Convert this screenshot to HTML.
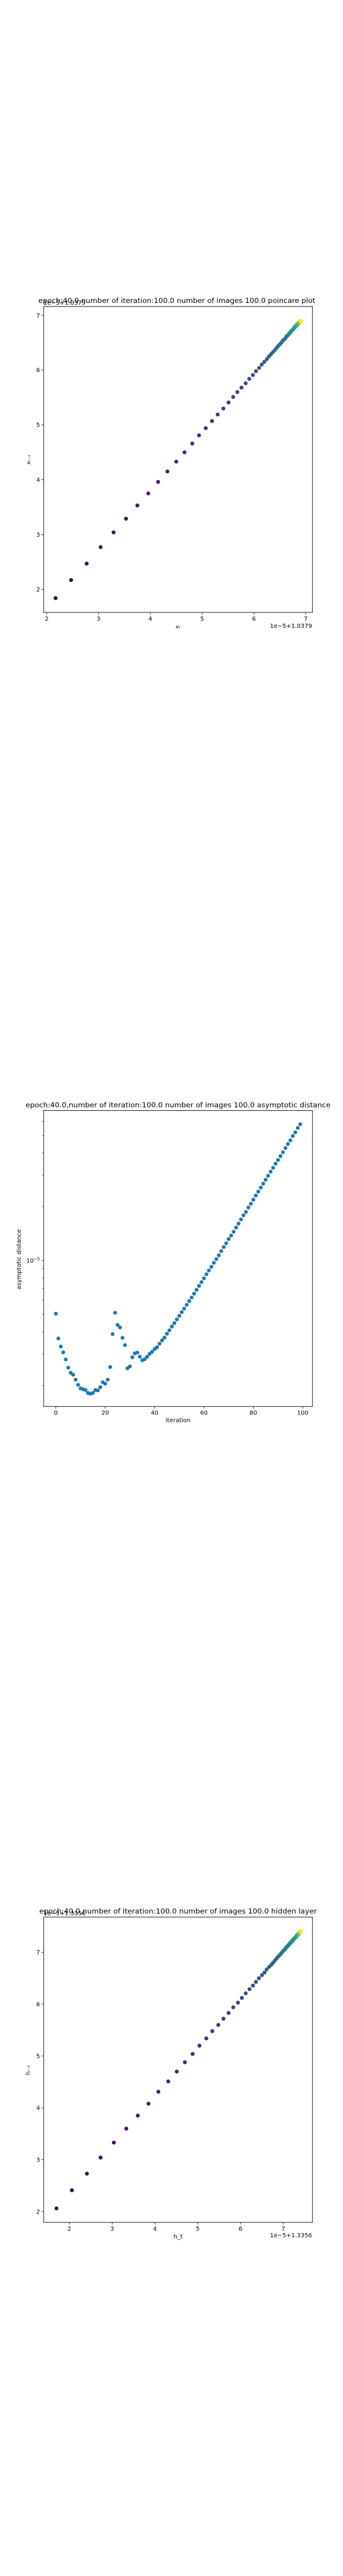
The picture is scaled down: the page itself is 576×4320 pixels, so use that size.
<!DOCTYPE html>
<html><head><meta charset="utf-8"><style>
html,body{margin:0;padding:0;background:#fff;}
svg{display:block;font-family:"DejaVu Sans","Liberation Sans",sans-serif;}
</style></head><body>
<svg id="fig" width="576" height="4320" viewBox="0 0 576 4320" xmlns="http://www.w3.org/2000/svg"></svg>
<script>
// ---- Plot 1 data: poincare plot sequence (units 1e-5 offset +1.0379)
const poincareSeq = [1.84,2.17,2.47,2.77,3.04,3.29,3.53,3.75,3.96,4.15,4.33,4.50,4.66,4.81,4.94,5.07,5.19,5.30,5.41,5.51,5.60,5.68,5.76,5.84,5.91,5.98,6.04,6.10,6.15,6.20,6.25,6.29,6.33,6.37,6.41,6.44,6.47,6.50,6.53,6.55,6.57,6.60,6.62,6.63,6.65,6.67,6.68,6.70,6.71,6.72,6.73,6.74,6.75,6.76,6.77,6.78,6.78,6.79,6.80,6.80,6.81,6.82,6.82,6.83,6.83,6.84,6.84,6.84,6.85,6.85,6.85,6.86,6.86,6.86,6.87,6.87,6.87,6.87,6.88,6.88,6.88,6.88,6.88,6.89,6.89,6.89,6.89,6.89,6.89,6.89,6.90,6.90,6.90,6.90,6.90,6.90,6.90,6.90,6.90,6.90,6.91];
const poincareTicks = [2,3,4,5,6,7];
// ---- Plot 2 data: asymptotic distance (units of 1e-5)
const iterations = [];
for (let i = 0; i < 100; i++) iterations.push(i);
const asymDist = [0.505,0.367,0.331,0.307,0.280,0.252,0.236,0.230,0.216,0.202,0.193,0.191,0.189,0.182,0.180,0.182,0.189,0.188,0.196,0.209,0.205,0.216,0.254,0.388,0.511,0.437,0.423,0.370,0.337,0.250,0.256,0.288,0.303,0.306,0.290,0.277,0.281,0.290,0.301,0.309,0.320,0.328,0.343,0.358,0.371,0.390,0.408,0.428,0.447,0.469,0.491,0.515,0.539,0.566,0.594,0.622,0.653,0.686,0.722,0.758,0.796,0.838,0.880,0.923,0.972,1.02,1.07,1.13,1.19,1.25,1.32,1.38,1.45,1.53,1.61,1.70,1.79,1.87,1.98,2.08,2.19,2.31,2.43,2.56,2.69,2.83,2.98,3.14,3.30,3.48,3.65,3.84,4.03,4.26,4.48,4.70,4.97,5.21,5.51,5.78];
const iterTicks = [0,20,40,60,80,100];
// ---- Plot 3 data: hidden layer sequence (units 1e-5 offset +1.3356)
const hiddenSeq = [1.70,2.06,2.41,2.73,3.04,3.33,3.60,3.85,4.08,4.31,4.51,4.70,4.88,5.04,5.20,5.34,5.48,5.60,5.72,5.83,5.94,6.03,6.12,6.21,6.29,6.36,6.43,6.50,6.56,6.61,6.67,6.72,6.76,6.80,6.84,6.88,6.92,6.95,6.98,7.01,7.04,7.06,7.09,7.11,7.13,7.15,7.17,7.18,7.20,7.21,7.22,7.24,7.25,7.26,7.27,7.28,7.29,7.29,7.30,7.31,7.31,7.32,7.33,7.33,7.34,7.34,7.35,7.35,7.35,7.36,7.36,7.36,7.37,7.37,7.37,7.37,7.38,7.38,7.38,7.38,7.38,7.39,7.39,7.39,7.39,7.39,7.39,7.39,7.40,7.40,7.40,7.40,7.40,7.40,7.40,7.40,7.40,7.40,7.41,7.41,7.41];
const hiddenTicks = [2,3,4,5,6,7];

const NS = "http://www.w3.org/2000/svg";
const svg = document.getElementById('fig');
function mk(tag, attrs, parent, text) {
  const e = document.createElementNS(NS, tag);
  for (const k in attrs) e.setAttribute(k, attrs[k]);
  if (text !== undefined) e.textContent = text;
  (parent || svg).appendChild(e);
  return e;
}
const VIR = [[68,1,84],[72,40,120],[62,74,137],[49,104,142],[38,130,142],[31,158,137],[53,183,121],[109,205,89],[180,222,44],[253,231,37]];
function viridis(t) {
  const p = t * (VIR.length - 1), i = Math.min(Math.floor(p), VIR.length - 2), f = p - i;
  const c = VIR[i].map((v, k) => Math.round(v + (VIR[i + 1][k] - v) * f));
  return `rgb(${c[0]},${c[1]},${c[2]})`;
}
function frame(g, L, R, T, B) {
  const r = mk('rect', {x: L, y: T, width: R - L, height: B - T, fill: 'none', stroke: '#000', 'stroke-width': 0.9}, g);
  
  
}
function xtick(g, x, B, label) {
  const l = mk('line', {x1: x, x2: x, y1: B, y2: B + 3.5, stroke: '#000', 'stroke-width': 0.8}, g);
  
  
  const t = mk('text', {x: x, y: B + 14, 'font-size': 10, 'text-anchor': 'middle', fill: '#000'}, g, label);
  
  
}
function ytick(g, y, L, label, len) {
  const l = mk('line', {x1: L - (len || 3.5), x2: L, y1: y, y2: y, stroke: '#000', 'stroke-width': 0.8}, g);
  
  
  if (label !== null) {
    const t = mk('text', {x: L - 6, y: y + 3.6, 'font-size': 10, 'text-anchor': 'end', fill: '#000'}, g, label);
    
    
  }
}

// ---------- Plot 1 ----------
(function(){
  const g = mk('g', {});
  
  
  const L = 73.3, R = 524.7, T = 514, B = 1027;
  const x0 = 1.94, x1 = 7.13, y0 = 1.58, y1 = 7.16;
  const sx = v => L + (v - x0) / (x1 - x0) * (R - L);
  const sy = v => B - (v - y0) / (y1 - y0) * (B - T);
  const n = poincareSeq.length - 1;
  for (let i = 0; i < n; i++) {
    const c = mk('circle', {cx: sx(poincareSeq[i + 1]), cy: sy(poincareSeq[i]), r: 3.3, fill: viridis(i / (n - 1))}, g);
    
    
  }
  frame(g, L, R, T, B);
  poincareTicks.forEach(v => xtick(g, sx(v), B, String(v)));
  poincareTicks.forEach(v => ytick(g, sy(v), L, String(v)));
  const t = mk('text', {x: 297, y: 508, 'font-size': 11.5, 'text-anchor': 'middle', textLength: 465, lengthAdjust: 'spacingAndGlyphs'}, g, 'epoch:40.0,number of iteration:100.0 number of images 100.0 poincare plot');
  
  
  const o1 = mk('text', {x: 73, y: 511, 'font-size': 10}, g, '1e\u22125+1.0379');
  
  
  const o2 = mk('text', {x: 524, y: 1053, 'font-size': 10, 'text-anchor': 'end'}, g, '1e\u22125+1.0379');
  
  
  const xl = mk('text', {x: 299, y: 1054, 'font-size': 9, 'text-anchor': 'middle', 'font-style': 'italic'}, g, 'x\u209C');
  
  
  const yl = mk('text', {x: 0, y: 0, 'font-size': 9, 'text-anchor': 'middle', 'font-style': 'italic', transform: 'translate(51,771) rotate(-90)'}, g, 'x\u209C\u208B\u2081');
  
  
})();

// ---------- Plot 2 ----------
(function(){
  const g = mk('g', {});
  
  
  const L = 73.3, R = 524.7, T = 1862.4, B = 2358.7;
  const x0 = -4.95, x1 = 103.95;
  const sx = v => L + (v - x0) / (x1 - x0) * (R - L);
  const sy = v => 2114 - 300 * Math.log10(v);
  for (let i = 0; i < asymDist.length; i++) {
    const c = mk('circle', {cx: sx(iterations[i]), cy: sy(asymDist[i]), r: 3.2, fill: '#1f77b4'}, g);
    
    
  }
  frame(g, L, R, T, B);
  iterTicks.forEach(v => xtick(g, sx(v), B, String(v)));
  [0.2,0.3,0.4,0.5,0.6,0.7,0.8,0.9,2,3,4,5,6].forEach(v => ytick(g, sy(v), L, null, 2));
  ytick(g, sy(1), L, null, 3.5);
  const lab = mk('text', {x: 67, y: sy(1) + 3.6, 'font-size': 10, 'text-anchor': 'end'}, g);
  
  
  mk('tspan', {}, lab, '10');
  mk('tspan', {dy: -4, 'font-size': 7}, lab, '\u22125');
  const t = mk('text', {x: 299, y: 1857, 'font-size': 11.5, 'text-anchor': 'middle', textLength: 512, lengthAdjust: 'spacingAndGlyphs'}, g, 'epoch:40.0,number of iteration:100.0  number of images 100.0 asymptotic distance');
  
  
  const xl = mk('text', {x: 299, y: 2385, 'font-size': 10, 'text-anchor': 'middle'}, g, 'iteration');
  
  
  const yl = mk('text', {x: 0, y: 0, 'font-size': 10, 'text-anchor': 'middle', transform: 'translate(35,2112) rotate(-90)'}, g, 'asymptotic distance');
  
  
})();

// ---------- Plot 3 ----------
(function(){
  const g = mk('g', {});
  
  
  const L = 73.3, R = 524.7, T = 3215, B = 3727;
  const x0 = 1.40, x1 = 7.68, y0 = 1.79, y1 = 7.68;
  const sx = v => L + (v - x0) / (x1 - x0) * (R - L);
  const sy = v => B - (v - y0) / (y1 - y0) * (B - T);
  const n = hiddenSeq.length - 1;
  for (let i = 0; i < n; i++) {
    const c = mk('circle', {cx: sx(hiddenSeq[i]), cy: sy(hiddenSeq[i + 1]), r: 3.3, fill: viridis(i / (n - 1))}, g);
    
    
  }
  frame(g, L, R, T, B);
  hiddenTicks.forEach(v => xtick(g, sx(v), B, String(v)));
  hiddenTicks.forEach(v => ytick(g, sy(v), L, String(v)));
  const t = mk('text', {x: 299, y: 3209, 'font-size': 11.5, 'text-anchor': 'middle', textLength: 466, lengthAdjust: 'spacingAndGlyphs'}, g, 'epoch:40.0,number of iteration:100.0  number of images 100.0 hidden layer');
  
  
  const o1 = mk('text', {x: 73, y: 3212, 'font-size': 10}, g, '1e\u22125+1.3356');
  
  
  const o2 = mk('text', {x: 524, y: 3752, 'font-size': 10, 'text-anchor': 'end'}, g, '1e\u22125+1.3356');
  
  
  const xl = mk('text', {x: 299, y: 3754, 'font-size': 10, 'text-anchor': 'middle'}, g, 'h_t');
  
  
  const yl = mk('text', {x: 0, y: 0, 'font-size': 9, 'text-anchor': 'middle', 'font-style': 'italic', transform: 'translate(50,3472) rotate(-90)'}, g, 'h\u209C\u208B\u2081');
  
  
})();
</script>
</body></html>
